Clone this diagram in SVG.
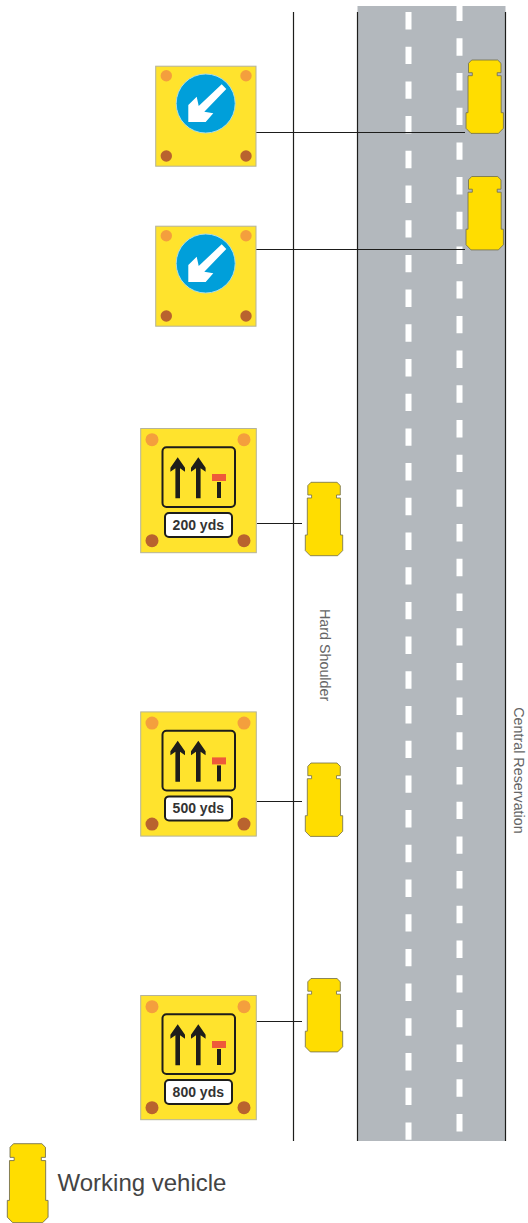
<svg xmlns="http://www.w3.org/2000/svg" xmlns:xlink="http://www.w3.org/1999/xlink" width="528" height="1223" viewBox="0 0 528 1223">
<style>
.edge{stroke:#1d1d1b;stroke-width:1.2;fill:none}
.lead{stroke:#1d1d1b;stroke-width:1.1;fill:none}
.dash{stroke:#fff;stroke-width:6;stroke-dasharray:17.4 17.3;fill:none}
.car{fill:#ffdd00;stroke:#6f6c4c;stroke-width:.8}
.plate{fill:#ffe32d;stroke:#b5b39a;stroke-width:1}
.top{fill:#f49f3d}
.bot{fill:#b9632e}
.ink{fill:#1d1d1b}
.panel{fill:none;stroke:#1d1d1b;stroke-width:2}
.lab{fill:#fff;stroke:#1d1d1b;stroke-width:2}
.yds{font:bold 14px "Liberation Sans",Arial,sans-serif;fill:#333;text-anchor:middle}
.note{font-family:"Liberation Sans",Arial,sans-serif;font-size:14.3px;fill:#666}
.key{font-family:"Liberation Sans",Arial,sans-serif;font-size:24px;fill:#444}
</style>
<defs>
<path id="carShape" class="car" d="M5.7 0H31.7L35 3.3V12.7H31.2V15.7H35.2V52.7H37.4V68.3L32.4 73.4H5L0 68.3V52.7H2V15.7H6.3V12.7H2.5V3.3Z"/>
<g id="signS">
<rect class="plate" x="155.7" y="66.2" width="100.3" height="100"/>
<circle class="top" cx="166.3" cy="75.7" r="5.7"/><circle class="top" cx="246" cy="75.7" r="5.7"/>
<circle class="bot" cx="166.3" cy="156" r="5.7"/><circle class="bot" cx="246" cy="156" r="5.7"/>
<circle cx="205.7" cy="103.5" r="29.5" fill="#009fda" stroke="#a8dcea" stroke-width="1"/>
<path fill="#fff" d="M221.7 84.3L226.3 89L204.3 111.7L213.3 113.3L205.7 122H188.3V105L196.7 96.7L198.7 106Z"/>
</g>
<path id="upArrow" class="ink" d="M0 0L7.3 10.5V14.5L2.3 11V41H-2.3V11L-7.3 14.5V10.5Z"/>
<g id="signL">
<rect class="plate" x="140.7" y="428.5" width="115.6" height="124.2"/>
<circle class="top" cx="152" cy="439.7" r="6.5"/><circle class="top" cx="244" cy="439.7" r="6.5"/>
<circle class="bot" cx="152" cy="540.7" r="6.5"/><circle class="bot" cx="244" cy="540.7" r="6.5"/>
<rect class="panel" x="162.5" y="447.3" width="72.5" height="59.7" rx="4"/>
<use xlink:href="#upArrow" href="#upArrow" x="177.7" y="457.3"/>
<use xlink:href="#upArrow" href="#upArrow" x="198.3" y="457.3"/>
<rect x="212" y="474" width="14" height="7" fill="#ee5a3a"/>
<rect class="ink" x="217" y="482" width="4" height="16"/>
<rect class="lab" x="165" y="513" width="67" height="24" rx="4"/>
</g>
</defs>
<g id="road">
<rect x="357.5" y="6" width="148" height="1135" fill="#b3b8bd"/>
<line class="dash" x1="408.5" y1="12" x2="408.5" y2="1140"/>
<line class="dash" x1="459.5" y1="6" x2="459.5" y2="1131.5" stroke-dashoffset="2.4"/>
</g>
<g id="edges">
<line class="edge" x1="293.5" y1="12" x2="293.5" y2="1141"/>
<line class="edge" x1="357.5" y1="12" x2="357.5" y2="1141"/>
<line class="edge" x1="505.5" y1="12" x2="505.5" y2="1141"/>
</g>
<g id="connectors">
<line class="lead" x1="256" y1="132.5" x2="465" y2="132.5"/>
<line class="lead" x1="256" y1="249.5" x2="465" y2="249.5"/>
<line class="lead" x1="257" y1="523.5" x2="302" y2="523.5"/>
<line class="lead" x1="257" y1="801.5" x2="302" y2="801.5"/>
<line class="lead" x1="257" y1="1021.5" x2="302" y2="1021.5"/>
</g>
<g id="car1"><use xlink:href="#carShape" href="#carShape" x="466" y="60"/></g>
<g id="car2"><use xlink:href="#carShape" href="#carShape" x="466" y="176.5"/></g>
<g id="car3"><use xlink:href="#carShape" href="#carShape" x="305.3" y="482.3"/></g>
<g id="car4"><use xlink:href="#carShape" href="#carShape" x="305.3" y="763"/></g>
<g id="car5"><use xlink:href="#carShape" href="#carShape" x="305.3" y="978.5"/></g>
<g id="sign-keep-left-1"><use xlink:href="#signS" href="#signS"/></g>
<g id="sign-keep-left-2"><use xlink:href="#signS" href="#signS" y="160"/></g>
<g id="sign-200"><use xlink:href="#signL" href="#signL"/><text class="yds" x="198.3" y="529.6">200 yds</text></g>
<g id="sign-500"><use xlink:href="#signL" href="#signL" y="283.4"/><text class="yds" x="198.3" y="813">500 yds</text></g>
<g id="sign-800"><use xlink:href="#signL" href="#signL" y="567"/><text class="yds" x="198.3" y="1096.6">800 yds</text></g>
<g id="label-hard-shoulder"><text class="note" transform="translate(320 609) rotate(90)">Hard Shoulder</text></g>
<g id="label-central-reservation"><text class="note" transform="translate(514 707.3) rotate(90)">Central Reservation</text></g>
<g id="legend">
<use xlink:href="#carShape" href="#carShape" transform="translate(7.3 1143.7) scale(1.09 1.076)"/>
<text class="key" x="57.5" y="1191">Working vehicle</text>
</g>
</svg>
